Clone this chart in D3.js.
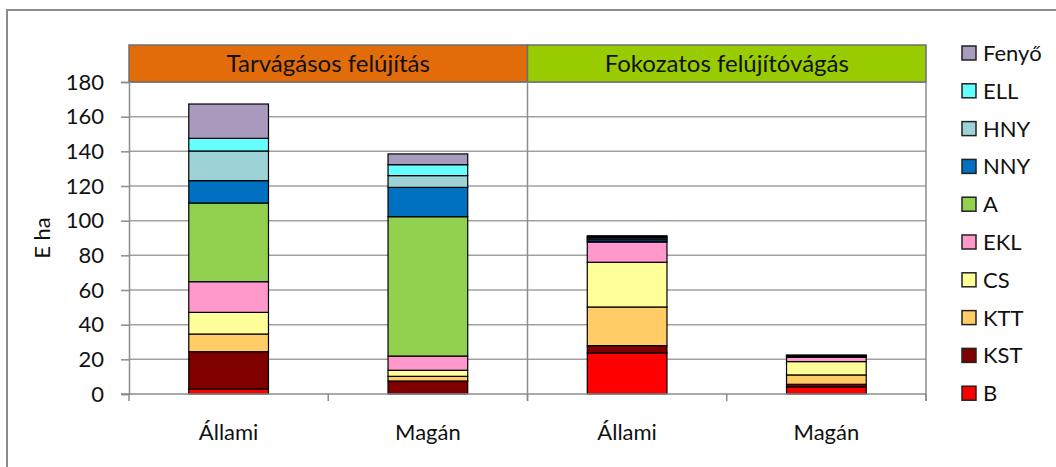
<!DOCTYPE html>
<html><head><meta charset="utf-8">
<script src="https://cdn.jsdelivr.net/npm/d3@7"></script>
<style>body{margin:0;background:#fff}svg{display:block;font-family:Lato,"Open Sans",sans-serif}</style>
</head><body>
<svg id="c" width="1056" height="467"></svg>
<script>
const categories = ["Állami","Magán","Állami","Magán"];
const groups = ["Tarvágásos felújítás","Fokozatos felújítóvágás"];
const seriesNames = ["B","KST","KTT","CS","EKL","A","NNY","HNY","ELL","Fenyő"];
const B     = [2.9, 0,   23.7, 4.0];
const KST   = [21.5,7.5, 4.2,  1.6];
const KTT   = [10.2,2.7, 22.3, 5.4];
const CS    = [12.5,3.5, 25.8, 7.7];
const EKL   = [17.7,8.2, 11.7, 2.5];
const A     = [45.4,80.4,0.5,  0.2];
const NNY   = [12.9,16.9,1.2,  0.3];
const HNY   = [17.1,6.8, 0.8,  0.3];
const ELL   = [7.3, 6.3, 0.5,  0.2];
const Fenyo = [19.8,6.2, 0.6,  0.3];
const yTicks = [0,20,40,60,80,100,120,140,160,180];
const colors = ["#FF0000","#800000","#FFCC66","#FFFF99","#FF99CC","#92D050","#0070C0","#9DD3D6","#66FFFF","#A99BBD"];
const groupColors = ["#E36C0A","#99CC00"];

const values = [B,KST,KTT,CS,EKL,A,NNY,HNY,ELL,Fenyo];
const svg = d3.select("#c");
const L=129, R=926, T=82, Bt=394, HT=45;

// outer frame
svg.append("line").attr("x1",7).attr("x2",1056).attr("y1",10).attr("y2",10).attr("stroke","#8c8c8c").attr("stroke-width",2);
svg.append("line").attr("x1",7).attr("x2",7).attr("y1",9).attr("y2",467).attr("stroke","#8c8c8c").attr("stroke-width",2);

const x = d3.scaleBand().domain(d3.range(categories.length)).range([L,R]).paddingInner(0).paddingOuter(0);
const y = d3.scaleLinear().domain([0,180]).range([Bt,T]);

// gridlines
svg.append("g").selectAll("line").data(yTicks.slice(1)).join("line")
  .attr("x1",L).attr("x2",R).attr("y1",d=>y(d)).attr("y2",d=>y(d))
  .attr("stroke","#a0a0a0").attr("stroke-width",1.5);

// group headers
const gx = d3.scaleBand().domain(d3.range(groups.length)).range([L,R]);
const hg = svg.append("g");
hg.selectAll("rect").data(groups).join("rect")
  .attr("x",(d,i)=>gx(i)).attr("y",HT).attr("width",gx.bandwidth()).attr("height",T-HT)
  .attr("fill",(d,i)=>groupColors[i]).attr("stroke","#6e6e6e").attr("stroke-width",1.5);
hg.selectAll("text").data(groups).join("text")
  .attr("x",(d,i)=>gx(i)+gx.bandwidth()/2).attr("y",(HT+T)/2+8).attr("text-anchor","middle")
  .attr("font-size",24).attr("fill","#111").text(d=>d);

// group separator + right border
svg.append("line").attr("x1",gx(1)).attr("x2",gx(1)).attr("y1",T).attr("y2",Bt+7).attr("stroke","#8c8c8c").attr("stroke-width",1.5);
svg.append("line").attr("x1",R).attr("x2",R).attr("y1",T).attr("y2",Bt+7).attr("stroke","#8c8c8c").attr("stroke-width",1.5);

// stacks
const table = categories.map((c,i)=>{const o={}; seriesNames.forEach((s,k)=>o[s]=values[k][i]); return o;});
const stack = d3.stack().keys(seriesNames)(table);
const bw = x.bandwidth()*0.4;
svg.append("g").selectAll("g").data(stack).join("g").attr("fill",(d,i)=>colors[i])
  .selectAll("rect").data(d=>d.map((v,i)=>({v,i}))).join("rect")
  .attr("x",d=>x(d.i)+x.bandwidth()/2-bw/2).attr("width",bw)
  .attr("y",d=>y(d.v[1])).attr("height",d=>Math.max(0,y(d.v[0])-y(d.v[1])))
  .attr("stroke","#000").attr("stroke-width",1.2);

// y axis
const ya = svg.append("g").attr("transform",`translate(${L},0)`)
  .call(d3.axisLeft(y).tickValues(yTicks).tickSize(8).tickPadding(17));
ya.select(".domain").attr("stroke","#8c8c8c").attr("stroke-width",1.5);
ya.selectAll(".tick line").attr("stroke","#8c8c8c").attr("stroke-width",1.5);
ya.selectAll("text").attr("font-size",22).attr("font-family","Lato").attr("fill","#111");

// x axis
const xa = svg.append("g").attr("transform",`translate(0,${Bt})`);
xa.append("line").attr("x1",L-8).attr("x2",R).attr("y1",0).attr("y2",0).attr("stroke","#8c8c8c").attr("stroke-width",1.5);
xa.selectAll("line.t").data(d3.range(categories.length+1)).join("line").attr("class","t")
  .attr("x1",i=>L+i*x.bandwidth()).attr("x2",i=>L+i*x.bandwidth()).attr("y1",0).attr("y2",7)
  .attr("stroke","#8c8c8c").attr("stroke-width",1.5);
xa.selectAll("text").data(categories).join("text")
  .attr("x",(d,i)=>x(i)+x.bandwidth()/2).attr("y",46).attr("text-anchor","middle")
  .attr("font-size",22).attr("fill","#111").text(d=>d);

// y label
svg.append("text").attr("transform",`translate(50,${(T+Bt)/2}) rotate(-90)`).attr("text-anchor","middle")
  .attr("font-size",22).attr("fill","#111").text("E ha");

// legend
const legendOrder = seriesNames.map((s,i)=>({s,c:colors[i]})).reverse();
const lg = svg.append("g").selectAll("g").data(legendOrder).join("g")
  .attr("transform",(d,i)=>`translate(962,${53+i*37.8})`);
lg.append("rect").attr("x",0).attr("y",-7).attr("width",14).attr("height",14).attr("fill",d=>d.c).attr("stroke","#222").attr("stroke-width",1.5);
lg.append("text").attr("x",21).attr("y",8).attr("font-size",22).attr("fill","#111").text(d=>d.s);
</script>
</body></html>
